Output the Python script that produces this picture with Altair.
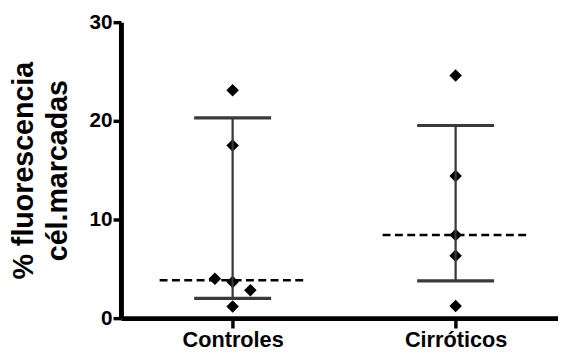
import altair as alt
import pandas as pd

FONT = "Liberation Sans"

# Data
groups = ["Controles", "Cirróticos"]
pt_group = ["Controles"] * 6 + ["Cirróticos"] * 5
pt_value = [23.1, 17.5, 4.0, 3.67, 2.83, 1.17, 24.6, 14.4, 8.43, 6.33, 1.23]
pt_slot = ["c", "c", "l", "c", "r", "c", "c", "c", "c", "c", "c"]
medians = [3.83, 8.43]
upper = [20.3, 19.53]
lower = [2.0, 3.77]
y_title = ["% fluorescencia", "cél.marcadas"]

pts = pd.DataFrame({"group": pt_group, "value": pt_value, "slot": pt_slot})
summ = pd.DataFrame({"group": groups, "median": medians, "upper": upper, "lower": lower})

xscale = alt.Scale(domain=groups, type="point", padding=0.48, align=0.5217)
xenc = alt.X("group:N", scale=xscale, sort=groups, title=None)
yscale = alt.Scale(domain=[0, 30], nice=False, zero=True)


def yenc(field):
    return alt.Y(field, type="quantitative", scale=yscale, title=y_title)


base_s = alt.Chart(summ)

stem = base_s.mark_rule(color="#3a3a3a", strokeWidth=2.3).encode(
    x=xenc, y=yenc("lower"), y2="upper:Q")
cap_up = base_s.mark_rule(color="#3a3a3a", strokeWidth=3.2, xOffset=-39, x2Offset=39).encode(
    x=xenc, x2="group:N", y=yenc("upper"))
cap_lo = base_s.mark_rule(color="#3a3a3a", strokeWidth=3.2, xOffset=-39, x2Offset=39).encode(
    x=xenc, x2="group:N", y=yenc("lower"))
med = base_s.mark_rule(color="black", strokeWidth=2.5, strokeDash=[8, 4.5],
                       xOffset=-74, x2Offset=74).encode(
    x=xenc, x2="group:N", y=yenc("median"))

points = alt.Chart(pts).mark_point(shape="diamond", filled=True, color="black",
                                   size=160, opacity=1).encode(
    x=xenc, y=yenc("value"),
    xOffset=alt.XOffset("slot:N", scale=alt.Scale(type="point", domain=["l", "c", "r"],
                                                  range=[-18, 18], padding=0))
)

chart = alt.layer(points, stem, cap_up, cap_lo, med).properties(
    width=443, height=300,
    autosize=alt.AutoSizeParams(type="none"),
    padding={"left": 114.5, "top": 12, "right": 0, "bottom": 35},
    background="white",
).configure_view(stroke=None).configure_axis(
    grid=False, labelFont=FONT, labelFontWeight="bold",
    labelColor="black", domainColor="black", domainWidth=5,
    tickColor="black", tickWidth=3.5,
).configure_axisX(
    labelAngle=0, tickSize=10, labelPadding=2, labelFontSize=22,
).configure_axisY(
    tickCount=3, tickSize=8, labelPadding=1, labelFontSize=21,
    titleFont=FONT, titleFontSize=29, titleFontWeight="bold", titleColor="black",
    titleLineHeight=35, titleX=-84, titleY=150, titleAngle=270,
    titleAlign="center", titleBaseline="bottom",
)

chart.save("out.html", embed_options={"renderer": "svg", "actions": False})
